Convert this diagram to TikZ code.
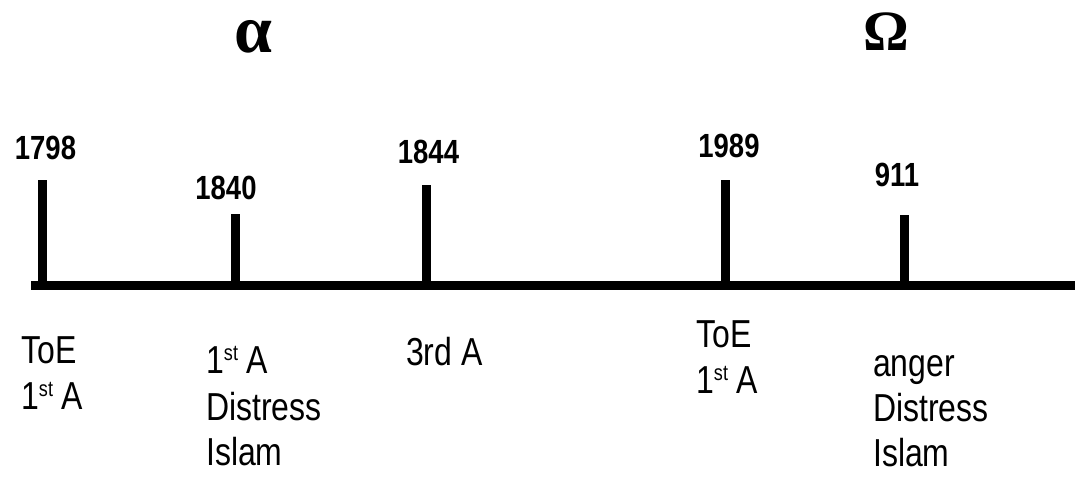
\documentclass[tikz,border=0pt]{standalone}
\usepackage{fontspec}
\setmainfont{Liberation Sans}[FakeStretch=0.82]
\newfontfamily\greekfont{Liberation Serif}
\newcommand{\myst}{\raisebox{13pt}{\fontsize{22}{22}\selectfont st}}
\begin{document}
\begin{tikzpicture}[x=1pt,y=-1pt,
  bar/.style={line width=9pt,line cap=butt},
  year/.style={inner sep=0pt,anchor=base,font=\fontsize{33.5}{40}\selectfont\bfseries},
  lbl/.style={inner sep=0pt,anchor=base west,font=\fontsize{39}{46}\selectfont},
  greek/.style={inner sep=0pt,anchor=base}]
\useasboundingbox (0,0) rectangle (1088,484);
% axis
\coordinate (axL) at (31,285);
\coordinate (axR) at (1075,285);
\draw[bar] (axL) -- (axR);
% ticks
\coordinate (b1) at (42,289); \coordinate (t1) at (42,180);
\coordinate (b2) at (235,289); \coordinate (t2) at (235,214);
\coordinate (b3) at (426,289); \coordinate (t3) at (426,185);
\coordinate (b4) at (725,289); \coordinate (t4) at (725,180);
\coordinate (b5) at (904,289); \coordinate (t5) at (904,215);
\draw[bar] (b1) -- (t1);
\draw[bar] (b2) -- (t2);
\draw[bar] (b3) -- (t3);
\draw[bar] (b4) -- (t4);
\draw[bar] (b5) -- (t5);
% years
\node[year] (y1) at (45.5,160) {1798};
\node[year] (y2) at (226,200) {1840};
\node[year] (y3) at (428.5,164) {1844};
\node[year] (y4) at (729,158) {1989};
\node[year] (y5) at (897,187) {911};
% greek
\node[greek,font=\greekfont\fontsize{68}{70}\selectfont\bfseries] (alpha) at (253,53) {α};
\node[greek,font=\greekfont\fontsize{57}{60}\selectfont\bfseries] (omega) at (886,51) {Ω};
% labels
\node[lbl] (l1a) at (21,363) {ToE};
\node[lbl] (l1b) at (21,409) {1\myst{} A};
\node[lbl] (l2a) at (206,373) {1\myst{} A};
\node[lbl] (l2b) at (206,420) {Distress};
\node[lbl] (l2c) at (206,465) {Islam};
\node[lbl] (l3a) at (406,365) {3rd A};
\node[lbl] (l4a) at (696,347) {ToE};
\node[lbl] (l4b) at (696,393) {1\myst{} A};
\node[lbl] (l5a) at (873,376) {anger};
\node[lbl] (l5b) at (873,421) {Distress};
\node[lbl] (l5c) at (873,466) {Islam};
\end{tikzpicture}
\end{document}
